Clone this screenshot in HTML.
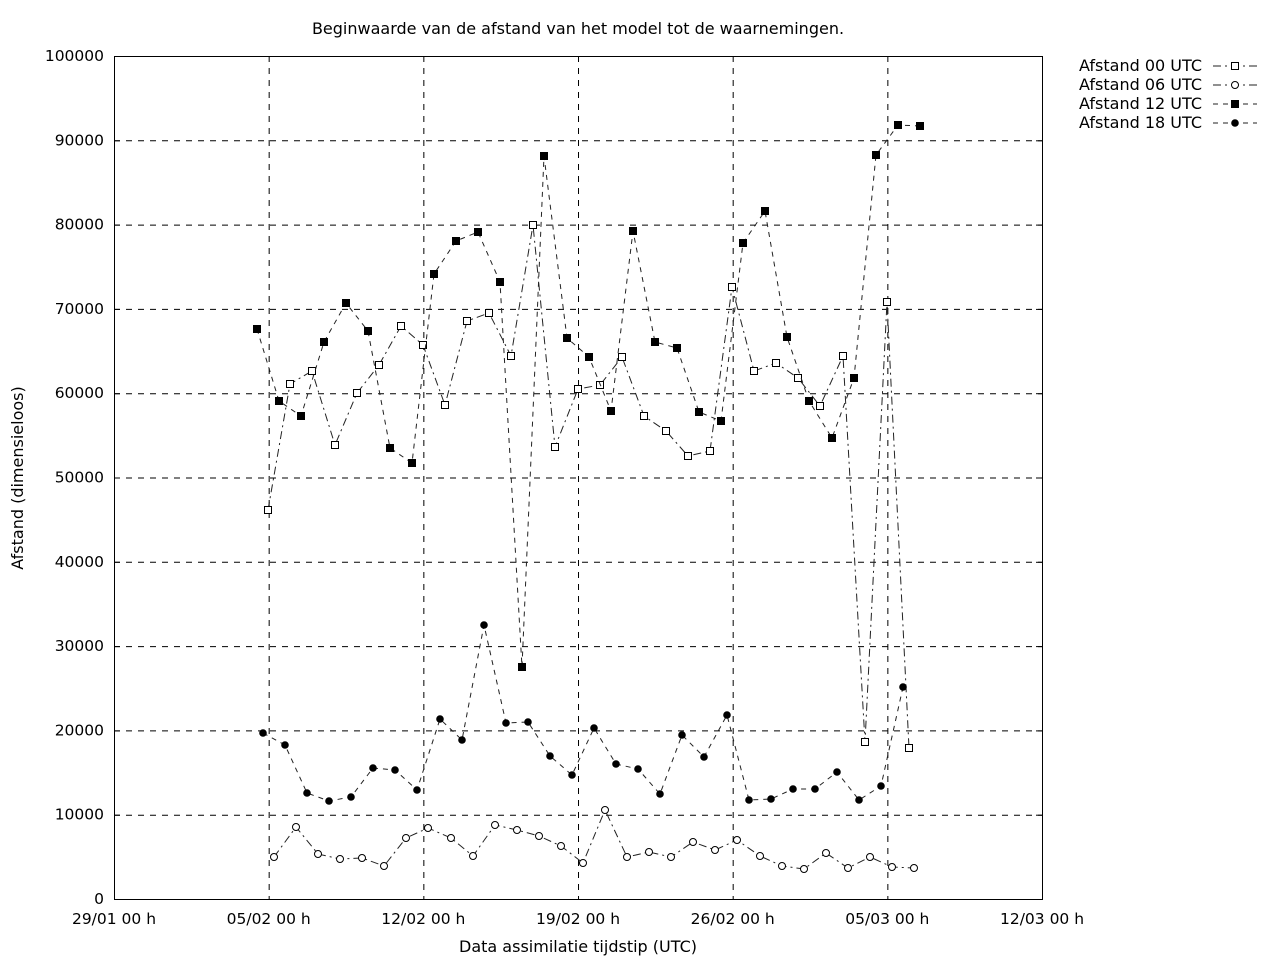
<!DOCTYPE html>
<html><head><meta charset="utf-8"><style>
html,body{margin:0;padding:0;background:#fff;}
svg{display:block;font-family:"DejaVu Sans","Liberation Sans",sans-serif;}
</style></head><body>
<svg id="s" width="1280" height="960" xmlns="http://www.w3.org/2000/svg">
<rect width="1280" height="960" fill="#fff"/>
<text x="578" y="34" font-size="16" text-anchor="middle">Beginwaarde van de afstand van het model tot de waarnemingen.</text>
<g id="grid" stroke="#000" stroke-width="1" stroke-dasharray="6,6"></g>
<rect x="114.5" y="56.5" width="928" height="843" fill="none" stroke="#000" stroke-width="1"/>
<g id="ticks" font-size="15.5"></g>
<text x="578" y="952" font-size="16" text-anchor="middle">Data assimilatie tijdstip (UTC)</text>
<text transform="translate(23,478) rotate(-90)" font-size="16" text-anchor="middle">Afstand (dimensieloos)</text>
<g id="series"></g>
<g id="legend" font-size="16"></g>
</svg>
<script>
const NS="http://www.w3.org/2000/svg";
function el(t,a,p,txt){const e=document.createElementNS(NS,t);for(const k in a)e.setAttribute(k,a[k]);if(txt!==undefined)e.textContent=txt;p.appendChild(e);return e;}
const grid=document.getElementById('grid'),ticks=document.getElementById('ticks');
for(let i=0;i<=10;i++){const y=899-i*84.3;
 if(i>0&&i<10)el('line',{x1:114,x2:1042,y1:y+.5,y2:y+.5},grid);
 el('text',{x:104,y:y+5,'text-anchor':'end'},ticks,String(i*10000));
 el('line',{x1:114,x2:120,y1:y+.5,y2:y+.5,stroke:'#000'},ticks);
 el('line',{x1:1036,x2:1042,y1:y+.5,y2:y+.5,stroke:'#000'},ticks);}
const xl=["29/01 00 h","05/02 00 h","12/02 00 h","19/02 00 h","26/02 00 h","05/03 00 h","12/03 00 h"];
for(let i=0;i<7;i++){const x=114+i*154.67;
 if(i>0&&i<6)el('line',{x1:x+.5,x2:x+.5,y1:56,y2:899},grid);
 el('text',{x:x,y:924,'text-anchor':'middle'},ticks,xl[i]);}
const s00=[[268,510],[290,384],[312,371],[335,445],[357,393],[379,365],[401,326],[423,345],[445,405],[467,321],[489,313],[511,356],[533,225],[555,447],[578,389],[600,385],[622,357],[644,416],[666,431],[688,456],[710,451],[732,287],[754,371],[776,363],[798,378],[820,406],[843,356],[865,742],[887,302],[909,748]];
const s12=[[257,329],[279,401],[301,416],[324,342],[346,303],[368,331],[390,448],[412,463],[434,274],[456,241],[478,232],[500,282],[522,667],[544,156],[567,338],[589,357],[611,411],[633,231],[655,342],[677,348],[699,412],[721,421],[743,243],[765,211],[787,337],[809,401],[832,438],[854,378],[876,155],[898,125],[920,126]];
const s18=[[263,733],[285,745],[307,793],[329,801],[351,797],[373,768],[395,770],[417,790],[440,719],[462,740],[484,625],[506,723],[528,722],[550,756],[572,775],[594,728],[616,764],[638,769],[660,794],[682,735],[704,757],[727,715],[749,800],[771,799],[793,789],[815,789],[837,772],[859,800],[881,786],[903,687]];
const s06=[[274,857],[296,827],[318,854],[340,859],[362,858],[384,866],[406,838],[428,828],[451,838],[473,856],[495,825],[517,830],[539,836],[561,846],[583,863],[605,810],[627,857],[649,852],[671,857],[693,842],[715,850],[737,840],[760,856],[782,866],[804,869],[826,853],[848,868],[870,857],[892,867],[914,868]];
const g=document.getElementById('series');
const DD="8,4,2,4",DS="5,5";
function marker(x,y,type,p){
 if(type=='os')el('rect',{x:x-3.5,y:y-3.5,width:7,height:7,fill:'#fff',stroke:'#000','stroke-width':1},p);
 if(type=='fs')el('rect',{x:x-4,y:y-4,width:8,height:8,fill:'#000'},p);
 if(type=='oc')el('circle',{cx:x,cy:y,r:3.5,fill:'#fff',stroke:'#000','stroke-width':1},p);
 if(type=='fc')el('circle',{cx:x,cy:y,r:3.8,fill:'#000'},p);}
function series(pts,dash,type){
 el('polyline',{points:pts.map(p=>p.join(',')).join(' '),fill:'none',stroke:'#222','stroke-width':1,'stroke-dasharray':dash},g);
 pts.forEach(p=>marker(p[0],p[1],type,g));}
series(s00,DD,'os');series(s06,DD,'oc');series(s12,DS,'fs');series(s18,DS,'fc');
const L=document.getElementById('legend');
[["Afstand 00 UTC",DD,'os'],["Afstand 06 UTC",DD,'oc'],["Afstand 12 UTC",DS,'fs'],["Afstand 18 UTC",DS,'fc']].forEach((d,i)=>{
 const y=66+i*19;
 el('text',{x:1202,y:y+5,'text-anchor':'end'},L,d[0]);
 el('line',{x1:1213,x2:1257,y1:y,y2:y,stroke:'#222','stroke-dasharray':d[1]},L);
 marker(1235,y,d[2],L);});
</script>
</body></html>
